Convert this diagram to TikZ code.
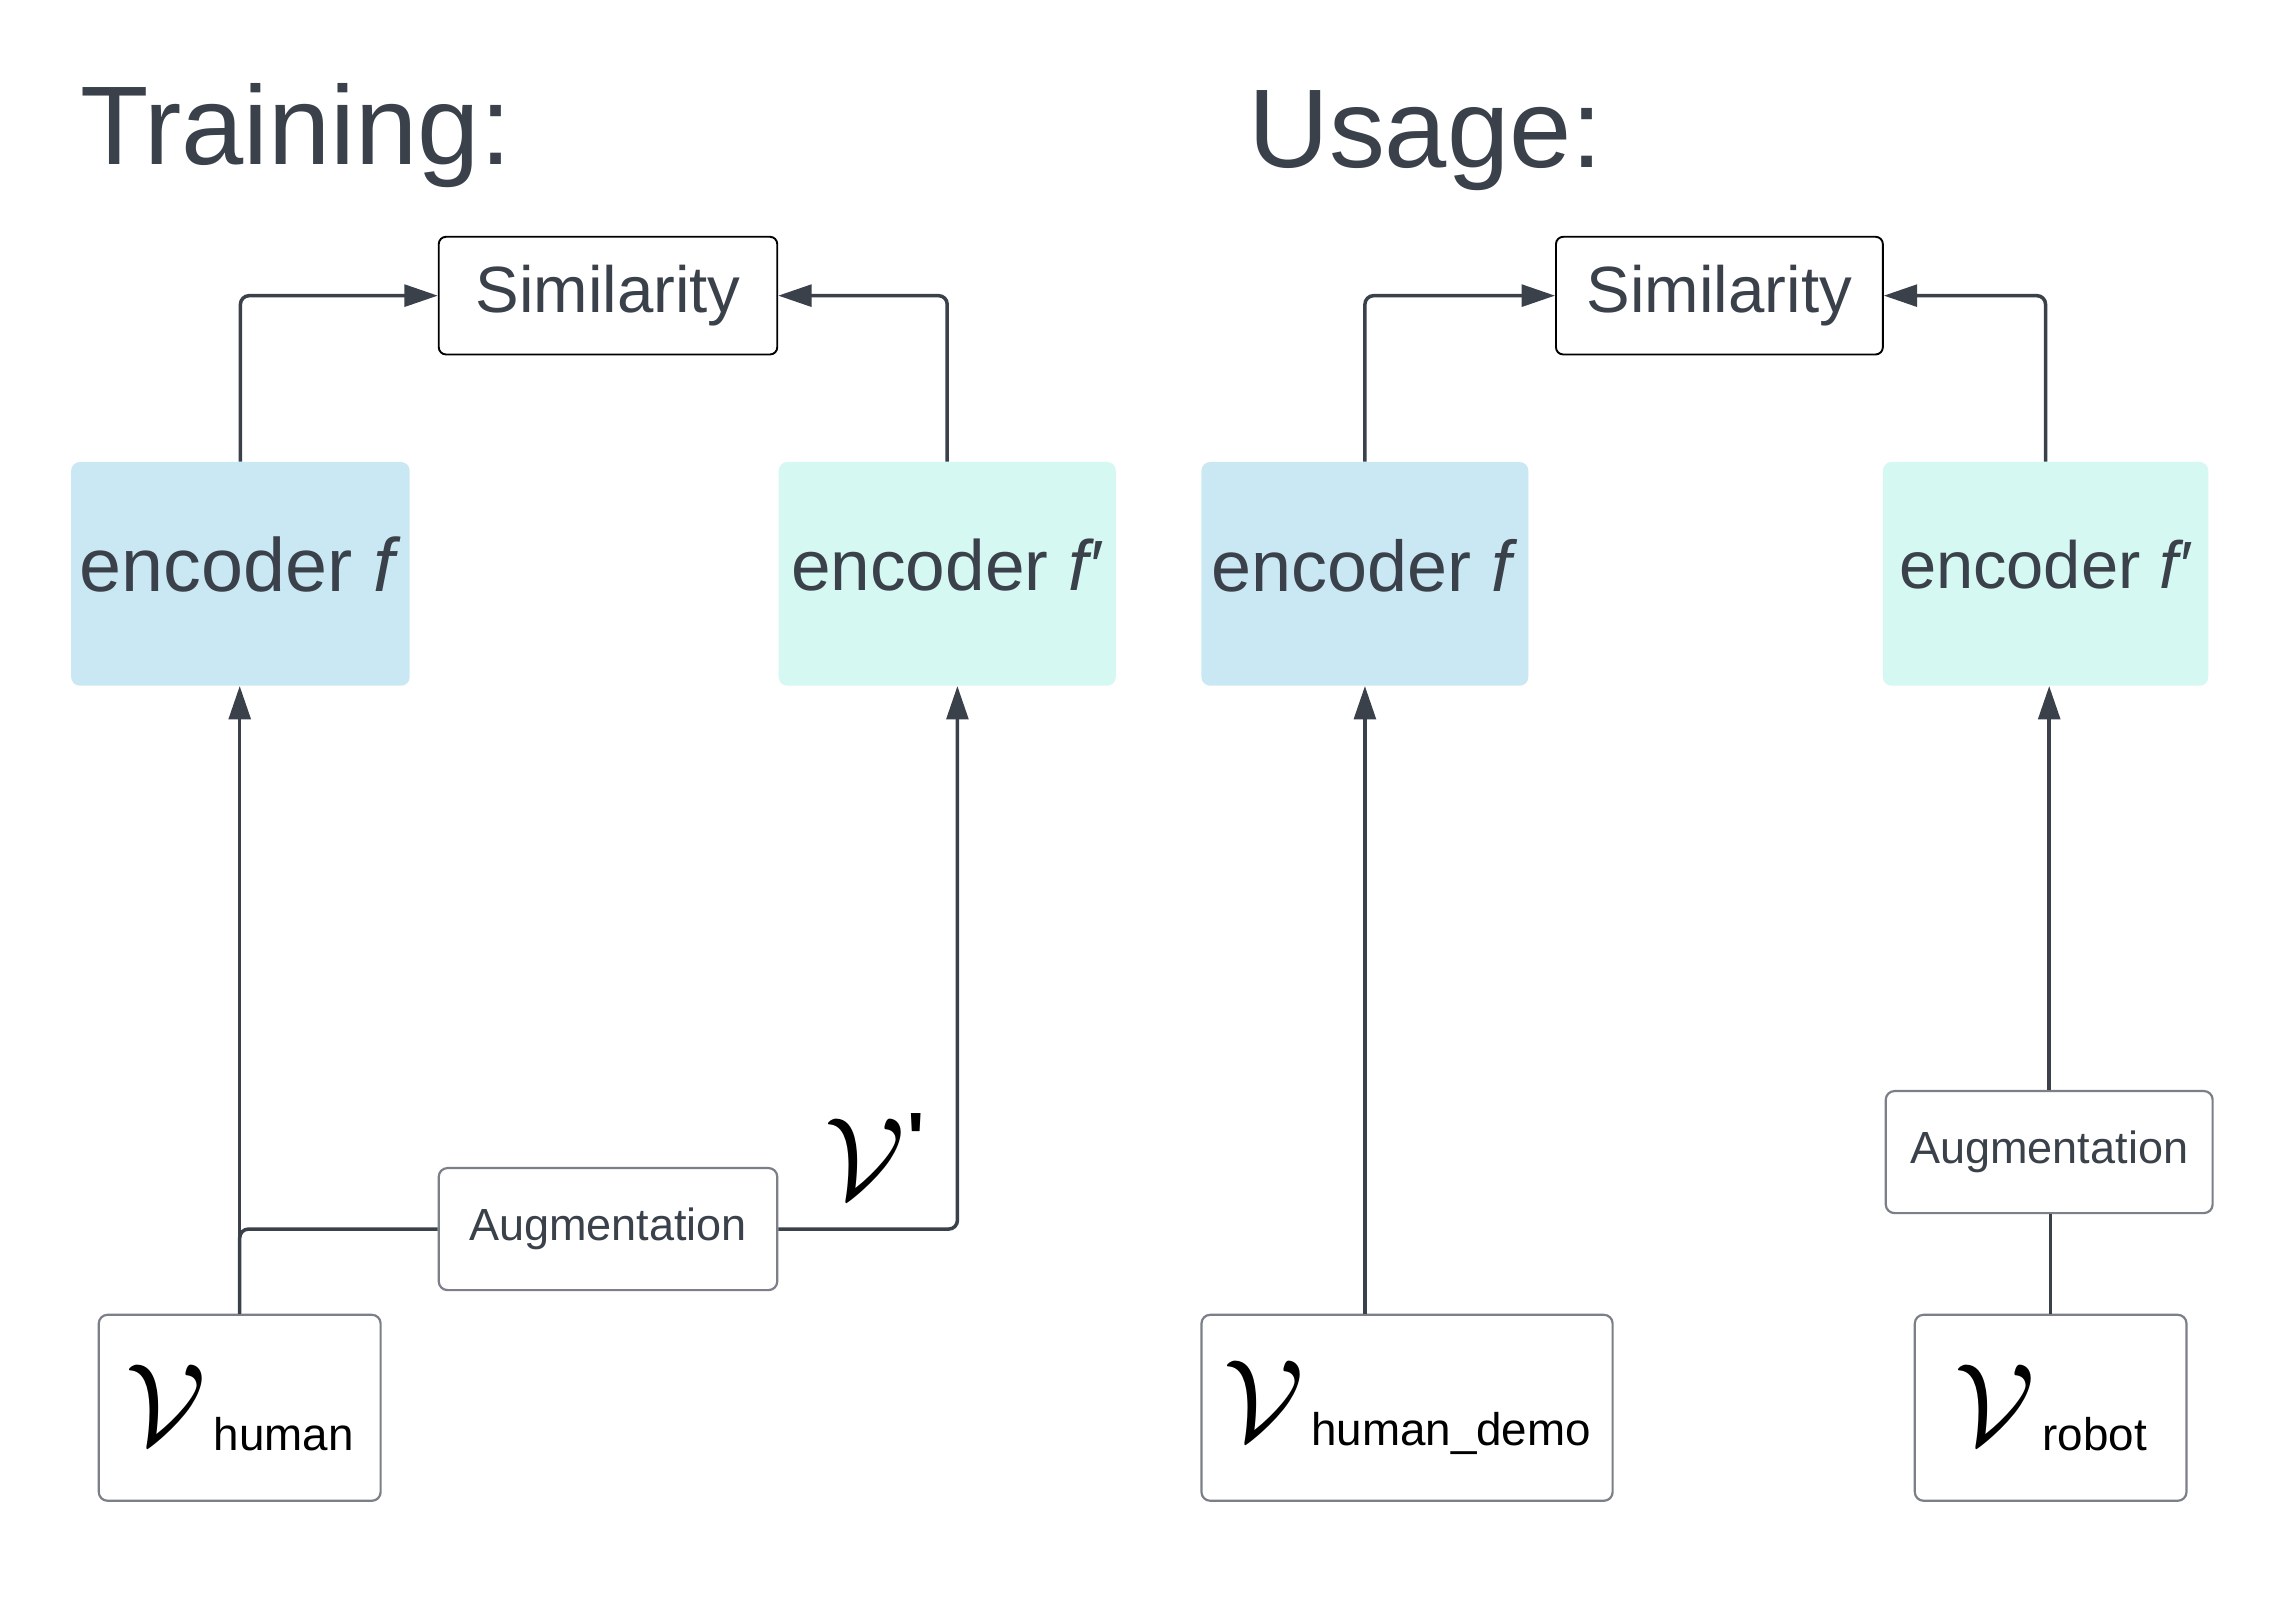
\RequirePackage{fix-cm}
\documentclass[tikz,border=0pt]{standalone}
\usepackage{fontspec}
\setmainfont{Liberation Sans}
\usetikzlibrary{arrows.meta}
\definecolor{ink}{HTML}{3A414A}
\definecolor{encA}{HTML}{C9E8F3}
\definecolor{encB}{HTML}{D6F8F3}
\definecolor{boxgray}{HTML}{7A7F88}
\newcommand{\vlab}[1]{{\fontsize{80}{80}\selectfont$\mathcal{V}$}\kern5pt\raisebox{-4pt}{\fontsize{31.5}{31.5}\selectfont #1}}
\begin{document}
\begin{tikzpicture}[x=1pt,y=-1pt,
  simbox/.style={draw=black, line width=1.3pt, rounded corners=5pt, minimum height=81pt, inner sep=0pt, text=ink, font=\fontsize{45}{54}\selectfont},
  encbox/.style={rounded corners=6pt, minimum height=154pt, inner sep=0pt, text=ink},
  augbox/.style={draw=boxgray, line width=1.5pt, rounded corners=6pt, minimum height=84pt, inner sep=0pt, text=ink, font=\fontsize{31}{37}\selectfont},
  vbox/.style={draw=boxgray, line width=1.5pt, rounded corners=6pt, minimum height=128pt, inner sep=0pt, text=black},
  conn/.style={draw=ink, line width=2.4pt, rounded corners=6pt},
  arr/.style={conn, -{Triangle[length=23pt,width=15pt]}},
  title/.style={text=ink, font=\fontsize{77}{90}\selectfont, anchor=base west, inner sep=0pt}
]
\useasboundingbox (0,0) rectangle (1568,1112.3);
\fill[white] (0,0) rectangle (1568,1112.3);

\node[title] (ttrain) at (55,113) {Training:};
\node[title] (tusage) at (859,115) {Usage:};

% Training
\node[simbox, minimum width=233pt] (simL) at (418.5,203.5) {Similarity};
\node[encbox, fill=encA, minimum width=233pt, font=\fontsize{52}{60}\selectfont] (encL1) at (165.5,395) {\raisebox{13pt}{encoder \textit{f}}};
\node[encbox, fill=encB, minimum width=232pt, font=\fontsize{49}{58}\selectfont] (encL2) at (652,395) {\raisebox{12pt}{encoder \textit{f′}}};
\node[augbox, minimum width=233pt] (augL) at (418.5,846) {Augmentation};
\node[vbox, minimum width=194pt] (vh) at (165,969) {\vlab{human}};
\node[text=black, inner sep=0pt] (vprime) at (602,796) {{\fontsize{80}{80}\selectfont$\mathcal{V}$}\kern2pt\raisebox{24pt}{\fontsize{50}{50}\selectfont\textbf{\textquotesingle}}};

\draw[arr] (encL1.north) |- (simL.west);
\draw[arr] (encL2.north) |- (simL.east);
\draw[arr] (vh.north) -- (vh.north |- encL1.south);
\draw[conn] (augL.west) -| (vh.north);
\draw[arr] (augL.east) -| ([xshift=7pt]encL2.south);

% Usage
\node[simbox, minimum width=225pt] (simR) at (1183.5,203.5) {Similarity};
\node[encbox, fill=encA, minimum width=225pt, font=\fontsize{49.5}{58}\selectfont] (encR1) at (939.5,395) {\raisebox{12pt}{encoder \textit{f}}};
\node[encbox, fill=encB, minimum width=224pt, font=\fontsize{46}{54}\selectfont] (encR2) at (1408,395) {\raisebox{13pt}{encoder \textit{f′}}};
\node[augbox, minimum width=225pt] (augR) at (1410.5,793) {Augmentation};
\node[vbox, minimum width=283pt] (vhd) at (968.5,969) {\vlab{human\_demo}};
\node[vbox, minimum width=187pt] (vr) at (1411.5,969) {\vlab{robot}};

\draw[arr] (encR1.north) |- (simR.west);
\draw[arr] (encR2.north) |- (simR.east);
\draw[arr] (encR1.south |- vhd.north) -- (encR1.south);
\draw[conn] (vr.north) -- (vr.north |- augR.south);
\draw[arr] (augR.north) -- (augR.north |- encR2.south);
\end{tikzpicture}
\end{document}
